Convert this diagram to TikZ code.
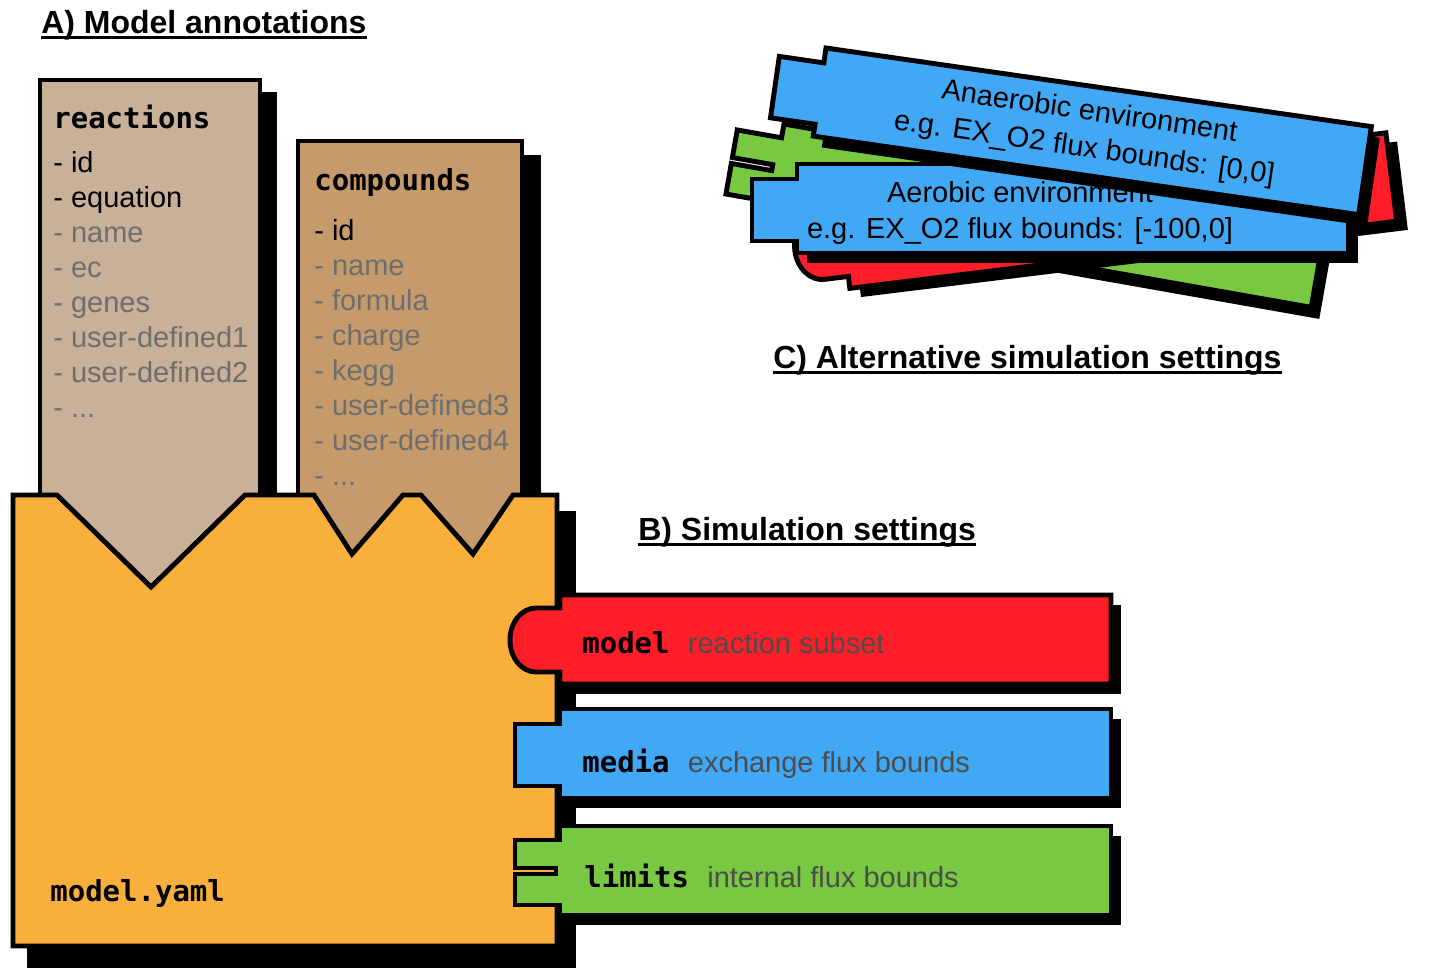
\documentclass[tikz,border=0pt]{standalone}
\usepackage{fontspec}
\setmainfont{Liberation Sans}
\setmonofont{DejaVu Sans Mono}
\usetikzlibrary{positioning}

\definecolor{yamlorange}{HTML}{F9AF3C}
\definecolor{rxntan}{HTML}{C8B099}
\definecolor{cpdtan}{HTML}{C69B6C}
\definecolor{modelred}{HTML}{FF1E28}
\definecolor{mediablue}{HTML}{41A8F5}
\definecolor{limitgreen}{HTML}{78C841}
\definecolor{optgray}{HTML}{6E6E6E}
\definecolor{descgray}{HTML}{4C4C4C}

\newcommand{\moredots}{...}

\begin{document}
\begin{tikzpicture}[
    x = 0.02cm, y = -0.02cm,
    outline/.style = {draw=black, line width=2.8pt},
    shadow/.style = {fill=black},
    title/.style = {font=\fontsize{18.2}{22}\selectfont\bfseries, anchor=base west, inner sep=0},
    underl/.style = {line width=1.6pt},
    keyword/.style = {font=\fontsize{16.5}{20}\selectfont\ttfamily\bfseries, anchor=base west, inner sep=0},
    item/.style = {font=\fontsize{16.5}{20}\selectfont, anchor=base west, inner sep=0},
    desc/.style = {item, text=descgray},
    envtext/.style = {font=\fontsize{16.5}{21}\selectfont, align=center, inner sep=0},
    pics/roundbar/.style = {code={
        \fill[shadow] (10,10) rectangle (561,99);
        \filldraw[outline, fill=#1] (0,0) -- (551,0) -- (551,89) -- (0,89) -- (0,77) -- (-24,77)
            arc[start angle=270, end angle=90, x radius=0.52cm, y radius=0.64cm] -- (0,13) -- cycle;
    }},
    pics/mediabar/.style = {code={
        \fill[shadow] (10,10) rectangle (561,99);
        \filldraw[outline, fill=#1] (0,0) -- (551,0) -- (551,89) -- (0,89) -- (0,77)
            -- (-45,77) -- (-45,15) -- (0,15) -- cycle;
    }},
    pics/limitsbar/.style = {code={
        \fill[shadow] (10,10) rectangle (561,99);
        \filldraw[outline, fill=#1] (0,0) -- (551,0) -- (551,89) -- (0,89) -- (0,79)
            -- (-45,79) -- (-45,48) -- (-4,48) -- (-4,42) -- (-45,42) -- (-45,14) -- (0,14) -- cycle;
    }}
]
    \useasboundingbox (0,0) rectangle (1448,968);

    % Titles
    \node [title] (titleA) at (41,33) {A) Model annotations};
    \node [title] (titleC) at (773,368) {C) Alternative simulation settings};
    \node [title] (titleB) at (638,540) {B) Simulation settings};
    \draw [underl] ([yshift=-2.5pt]titleA.base west) -- ([yshift=-2.5pt]titleA.base east);
    \draw [underl] ([yshift=-2.5pt]titleC.base west) -- ([yshift=-2.5pt]titleC.base east);
    \draw [underl] ([yshift=-2.5pt]titleB.base west) -- ([yshift=-2.5pt]titleB.base east);

    % Model file
    \fill [shadow] (27,511) rectangle (576,968);

    \fill [shadow] (52,92) rectangle (277,600);
    \filldraw [outline, fill=rxntan] (40,80) rectangle (260,600);
    \fill [shadow] (312,155) rectangle (541,600);
    \filldraw [outline, fill=cpdtan] (298,141) rectangle (522,600);

    \node [keyword] (rxn) at (53,128) {reactions};
    \foreach \col/\t [count=\i] in {black/id, black/equation, optgray/name, optgray/ec,
        optgray/genes, optgray/user-defined1, optgray/user-defined2, optgray/\moredots}
        \node [item, text=\col] (rxn\i) at (53,137+35*\i) {- \t};

    \node [keyword] (cpd) at (314,190) {compounds};
    \foreach \col/\t [count=\i] in {black/id, optgray/name, optgray/formula, optgray/charge,
        optgray/kegg, optgray/user-defined3, optgray/user-defined4, optgray/\moredots}
        \node [item, text=\col] (cpd\i) at (314,205+35*\i) {- \t};

    \filldraw [outline, fill=yamlorange] (13,495) -- (57,495) -- (151,587) -- (245,495) -- (314,495)
        -- (352,554) -- (403,495) -- (421,495) -- (473,554) -- (513,495) -- (557,495)
        -- (557,946) -- (13,946) -- cycle;
    \node [keyword] (yaml) at (50,901) {model.yaml};

    % Simulation settings
    \pic at (560,595) {roundbar=modelred};
    \pic at (560,709) {mediabar=mediablue};
    \pic at (560,826) {limitsbar=limitgreen};

    \node [keyword] (kmodel) at (582,653) {model};
    \node [desc, right=10pt of kmodel.base east, anchor=base west] (dmodel) {reaction subset};
    \node [keyword] (kmedia) at (582,772) {media};
    \node [desc, right=10pt of kmedia.base east, anchor=base west] (dmedia) {exchange flux bounds};
    \node [keyword] (klimits) at (584,887) {limits};
    \node [desc, right=10pt of klimits.base east, anchor=base west] (dlimits) {internal flux bounds};

    % Alternative settings
    \begin{scope}[shift={(784,124)}, rotate=-10]
        \pic [transform shape] {limitsbar=limitgreen};
    \end{scope}
    \begin{scope}[shift={(839,200)}, rotate=7]
        \pic [transform shape] {roundbar=modelred};
    \end{scope}
    \begin{scope}[shift={(797,164)}]
        \pic {mediabar=mediablue};
        \node [envtext] (aerobic) at (223,49) {Aerobic environment\\e.g. EX\_O2 flux bounds: [-100,0]};
    \end{scope}
    \begin{scope}[shift={(826,48)}, rotate=-8.2]
        \pic [transform shape] {mediabar=mediablue};
        \node [envtext, rotate=-8.2] (anaerobic) at (270,45) {Anaerobic environment\\e.g. EX\_O2 flux bounds: [0,0]};
    \end{scope}

\end{tikzpicture}
\end{document}
